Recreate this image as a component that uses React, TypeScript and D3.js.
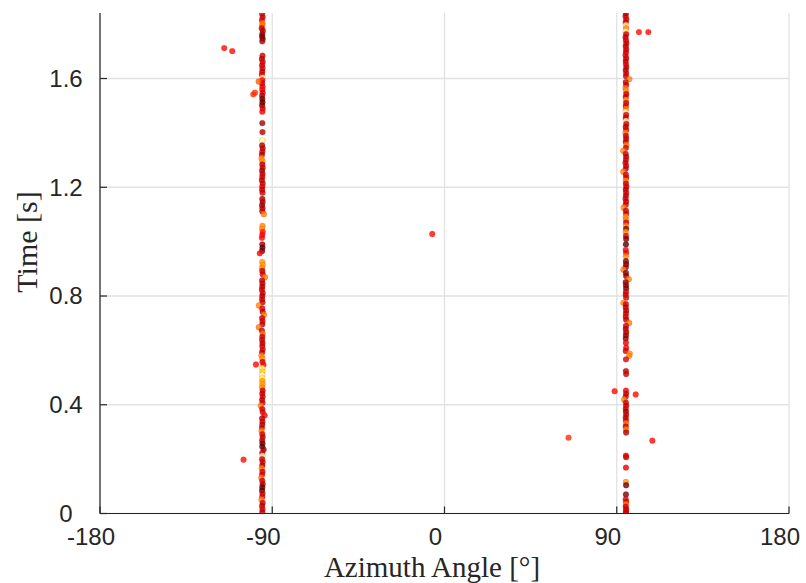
import React from "react";
import * as d3 from "d3";

// Detections near the left-hand source track: [azimuth °, time s, colour level]
const leftTrack: [number, number, number][] = [
  [-95.3, 1.838, 0.30], [-95.0, 1.826, 0.28], [-95.4, 1.815, 0.32], [-95.1, 1.803, 0.58], [-95.2, 1.796, 0.55],
  [-95.5, 1.785, 0.30], [-94.9, 1.776, 0.27], [-95.2, 1.764, 0.24], [-95.3, 1.755, 0.16], [-95.0, 1.746, 0.18],
  [-95.2, 1.737, 0.26],
  [-95.1, 1.684, 0.30], [-95.4, 1.672, 0.27], [-95.0, 1.661, 0.32], [-95.3, 1.649, 0.29], [-95.1, 1.638, 0.33],
  [-95.2, 1.626, 0.28], [-95.4, 1.615, 0.31], [-95.0, 1.603, 0.93], [-95.2, 1.594, 0.35], [-95.3, 1.583, 0.30],
  [-95.1, 1.571, 0.33], [-95.2, 1.560, 0.36], [-95.0, 1.548, 0.31], [-95.3, 1.537, 0.28], [-95.2, 1.525, 0.17],
  [-95.1, 1.513, 0.14], [-95.3, 1.502, 0.19], [-95.0, 1.490, 0.30], [-95.2, 1.478, 0.36],
  [-95.2, 1.436, 0.24], [-95.1, 1.403, 0.26], [-95.2, 1.372, 0.92],
  [-95.3, 1.354, 0.25], [-95.0, 1.343, 0.28], [-95.2, 1.331, 0.30], [-95.4, 1.320, 0.26], [-95.6, 1.307, 0.58],
  [-95.1, 1.296, 0.60], [-95.2, 1.284, 0.27], [-95.0, 1.272, 0.30], [-95.3, 1.261, 0.25], [-95.1, 1.249, 0.28],
  [-95.2, 1.238, 0.31], [-95.4, 1.226, 0.26], [-95.0, 1.214, 0.29], [-95.2, 1.203, 0.33], [-95.3, 1.191, 0.27],
  [-95.1, 1.180, 0.30],
  [-95.2, 1.157, 0.24], [-95.0, 1.146, 0.27], [-95.3, 1.134, 0.22], [-95.1, 1.123, 0.26], [-95.2, 1.112, 0.30],
  [-94.4, 1.101, 0.57],
  [-95.1, 1.058, 0.58], [-95.3, 1.047, 0.60], [-95.0, 1.036, 0.40], [-95.2, 1.025, 0.36], [-95.4, 1.014, 0.38],
  [-95.2, 0.990, 0.22], [-95.1, 0.978, 0.14], [-95.3, 0.966, 0.16], [-96.5, 0.957, 0.38],
  [-95.2, 0.925, 0.60], [-95.0, 0.914, 0.62], [-95.3, 0.903, 0.58],
  [-95.2, 0.892, 0.28], [-95.0, 0.880, 0.31], [-93.8, 0.869, 0.57], [-95.3, 0.857, 0.27], [-95.1, 0.846, 0.30],
  [-95.2, 0.834, 0.25], [-95.4, 0.823, 0.29], [-95.0, 0.811, 0.32], [-95.2, 0.800, 0.26], [-95.3, 0.788, 0.30],
  [-95.1, 0.777, 0.28], [-97.0, 0.765, 0.58], [-95.2, 0.754, 0.31], [-95.0, 0.742, 0.27], [-94.3, 0.731, 0.57],
  [-95.3, 0.719, 0.29], [-95.1, 0.708, 0.32], [-95.2, 0.696, 0.26], [-97.0, 0.685, 0.56], [-95.4, 0.673, 0.30],
  [-95.0, 0.662, 0.55], [-95.2, 0.650, 0.28], [-95.3, 0.639, 0.31], [-95.1, 0.627, 0.26], [-95.2, 0.616, 0.29],
  [-95.0, 0.604, 0.33], [-95.3, 0.593, 0.27], [-95.6, 0.581, 0.57], [-95.2, 0.570, 0.60], [-95.1, 0.558, 0.30],
  [-94.6, 0.547, 0.38],
  [-95.2, 0.535, 0.85], [-95.1, 0.522, 0.70], [-95.3, 0.510, 0.95], [-95.2, 0.498, 0.80],
  [-95.2, 0.487, 0.60], [-95.1, 0.475, 0.62], [-95.3, 0.464, 0.58], [-95.0, 0.452, 0.30],
  [-95.2, 0.441, 0.28], [-95.0, 0.430, 0.31], [-95.3, 0.418, 0.27], [-95.1, 0.407, 0.30], [-96.0, 0.396, 0.58],
  [-95.2, 0.384, 0.29], [-95.0, 0.373, 0.32], [-94.0, 0.361, 0.38], [-95.3, 0.350, 0.27], [-95.1, 0.338, 0.30],
  [-95.2, 0.327, 0.26], [-95.4, 0.315, 0.29], [-95.6, 0.304, 0.58], [-95.2, 0.292, 0.31], [-95.0, 0.281, 0.27],
  [-95.3, 0.269, 0.30], [-95.1, 0.258, 0.16], [-95.2, 0.246, 0.13], [-94.5, 0.235, 0.20], [-95.2, 0.223, 0.30],
  [-95.1, 0.212, 0.93], [-95.3, 0.200, 0.28], [-95.0, 0.189, 0.31], [-95.2, 0.177, 0.27], [-95.5, 0.166, 0.57],
  [-95.1, 0.154, 0.29], [-95.3, 0.143, 0.32], [-95.7, 0.131, 0.56], [-95.2, 0.120, 0.30], [-95.0, 0.108, 0.27],
  [-95.2, 0.097, 0.15], [-95.3, 0.085, 0.14], [-95.1, 0.074, 0.28], [-95.2, 0.062, 0.31], [-95.6, 0.051, 0.58],
  [-95.0, 0.039, 0.30], [-95.3, 0.028, 0.27], [-95.1, 0.016, 0.32], [-95.2, 0.005, 0.29],
];

// Detections near the right-hand source track
const rightTrack: [number, number, number][] = [
  [94.8, 1.840, 0.30], [94.6, 1.829, 0.27], [95.0, 1.818, 0.32], [94.7, 1.807, 0.28], [94.8, 1.796, 0.92],
  [94.9, 1.785, 0.58], [94.7, 1.774, 0.90], [94.9, 1.763, 0.30], [94.6, 1.752, 0.27], [94.8, 1.741, 0.33],
  [95.0, 1.730, 0.29], [94.7, 1.719, 0.26], [94.9, 1.708, 0.31], [94.8, 1.697, 0.28], [94.6, 1.686, 0.34],
  [94.9, 1.675, 0.30], [94.7, 1.664, 0.27], [94.8, 1.653, 0.32], [95.0, 1.642, 0.29], [94.7, 1.631, 0.26],
  [94.9, 1.620, 0.31], [94.8, 1.609, 0.28], [96.6, 1.598, 0.58], [94.7, 1.587, 0.30], [94.9, 1.576, 0.27],
  [94.6, 1.565, 0.55], [94.8, 1.554, 0.60], [95.0, 1.543, 0.30], [94.7, 1.532, 0.28], [94.8, 1.521, 0.62],
  [94.9, 1.510, 0.29], [94.7, 1.499, 0.32], [94.8, 1.488, 0.57], [94.6, 1.477, 0.92], [94.9, 1.466, 0.30],
  [94.7, 1.455, 0.27], [94.8, 1.444, 0.93], [95.0, 1.433, 0.29], [94.7, 1.422, 0.26], [94.9, 1.411, 0.31],
  [94.6, 1.400, 0.58], [94.8, 1.389, 0.28], [94.9, 1.378, 0.30], [94.7, 1.367, 0.27], [95.0, 1.356, 0.57],
  [94.8, 1.345, 0.29], [93.4, 1.334, 0.58], [94.7, 1.323, 0.30], [94.9, 1.312, 0.26], [94.8, 1.301, 0.31],
  [94.6, 1.290, 0.28], [94.9, 1.279, 0.30], [94.7, 1.268, 0.27], [93.4, 1.257, 0.57], [94.8, 1.246, 0.29],
  [94.9, 1.235, 0.31], [94.7, 1.224, 0.58], [94.8, 1.213, 0.28], [95.0, 1.202, 0.30], [94.7, 1.191, 0.26],
  [94.9, 1.180, 0.31], [94.8, 1.169, 0.28], [94.6, 1.158, 0.30], [94.9, 1.147, 0.27], [94.7, 1.136, 0.32],
  [93.6, 1.125, 0.58], [94.8, 1.114, 0.29], [94.9, 1.103, 0.30], [94.7, 1.092, 0.60], [94.8, 1.081, 0.57],
  [94.9, 1.070, 0.29],
  [94.8, 1.058, 0.58], [94.9, 1.047, 0.18], [94.7, 1.036, 0.60], [94.8, 1.021, 0.33], [94.9, 1.010, 0.17],
  [94.8, 0.990, 0.12], [94.7, 0.970, 0.36], [94.9, 0.959, 0.34], [94.8, 0.946, 0.58],
  [94.8, 0.928, 0.18], [94.9, 0.917, 0.20], [94.7, 0.906, 0.22], [93.5, 0.897, 0.57], [94.8, 0.885, 0.19],
  [94.9, 0.874, 0.21], [96.3, 0.862, 0.58], [94.7, 0.851, 0.20], [94.8, 0.840, 0.22], [94.9, 0.829, 0.18],
  [94.8, 0.816, 0.30], [94.7, 0.805, 0.28], [94.9, 0.794, 0.31], [93.5, 0.775, 0.57], [94.8, 0.770, 0.29],
  [94.7, 0.758, 0.27], [94.9, 0.747, 0.30], [94.8, 0.736, 0.26], [94.7, 0.724, 0.31], [94.9, 0.713, 0.28],
  [96.5, 0.701, 0.57], [94.8, 0.690, 0.30], [94.7, 0.679, 0.27], [94.9, 0.667, 0.29], [94.8, 0.656, 0.23],
  [94.7, 0.644, 0.20],
  [94.8, 0.628, 0.33], [94.9, 0.610, 0.36], [94.7, 0.598, 0.30], [96.8, 0.588, 0.60], [96.5, 0.580, 0.58],
  [94.8, 0.567, 0.32], [94.8, 0.524, 0.26], [94.9, 0.513, 0.29],
  [94.8, 0.452, 0.34], [94.9, 0.441, 0.30], [94.7, 0.430, 0.28], [93.8, 0.419, 0.58], [94.8, 0.408, 0.30],
  [94.9, 0.397, 0.27], [94.7, 0.386, 0.31], [94.8, 0.375, 0.22], [94.9, 0.364, 0.29], [94.7, 0.353, 0.26],
  [94.8, 0.342, 0.30], [94.9, 0.331, 0.57], [94.7, 0.320, 0.28], [94.8, 0.309, 0.58], [94.9, 0.298, 0.26],
  [94.8, 0.213, 0.33], [94.9, 0.207, 0.30], [94.8, 0.169, 0.34], [94.8, 0.116, 0.60], [94.9, 0.104, 0.16],
  [94.8, 0.070, 0.18], [94.7, 0.052, 0.33], [94.9, 0.043, 0.30], [94.8, 0.034, 0.58], [94.7, 0.025, 0.31],
  [94.9, 0.016, 0.29], [94.8, 0.008, 0.33], [94.8, 0.002, 0.30],
];

// Isolated detections away from both tracks
const strayDetections: [number, number, number][] = [
  [-115.1, 1.712, 0.39], [-110.9, 1.701, 0.39], [-99.9, 1.542, 0.45], [-99.0, 1.548, 0.45],
  [-97.1, 1.589, 0.52], [-98.5, 0.548, 0.39], [-105.0, 0.198, 0.39], [-6.4, 1.028, 0.39],
  [64.8, 0.279, 0.45], [88.9, 0.450, 0.39], [99.9, 0.438, 0.39], [101.6, 1.771, 0.39],
  [106.5, 1.771, 0.39], [108.6, 0.268, 0.39],
];

const xTicks = [-180, -90, 0, 90, 180];
const yTicks = [0, 0.4, 0.8, 1.2, 1.6];
const xDomain: [number, number] = [-180, 180];
const yDomain: [number, number] = [0, 1.841];

const W = 806;
const H = 583;
const plot = { left: 100, right: 789, top: 13, bottom: 513.5 };

// "hot" colour map: black -> red -> yellow -> white
const hot = d3
  .scaleLinear<string>()
  .domain([0, 0.375, 0.75, 1])
  .range(["#000000", "#ff0000", "#ffff00", "#ffffff"])
  .clamp(true);

const axisColor = "#262626";
const gridColor = "#e1e1e1";
const sans = "'Liberation Sans', Arial, Helvetica, sans-serif";
const serif = "'Liberation Serif', 'DejaVu Serif', serif";

export default function App() {
  const x = d3.scaleLinear().domain(xDomain).range([plot.left, plot.right]);
  const y = d3.scaleLinear().domain(yDomain).range([plot.bottom, plot.top]);

  const allPoints = [...leftTrack, ...rightTrack, ...strayDetections];

  return (
    <div style={{ position: "absolute", left: 0, top: 0 }}>
      <svg width={W} height={H} style={{ display: "block", background: "#fff" }}>
        <defs>
          <clipPath id="plot-area">
            <rect x={plot.left} y={plot.top} width={plot.right - plot.left} height={plot.bottom - plot.top} />
          </clipPath>
        </defs>

        {/* grid */}
        <g stroke={gridColor} strokeWidth={1.3}>
          {xTicks.map((t) => (
            <line key={`gx${t}`} x1={x(t)} x2={x(t)} y1={plot.top} y2={plot.bottom} />
          ))}
          {yTicks.map((t) => (
            <line key={`gy${t}`} x1={plot.left} x2={plot.right} y1={y(t)} y2={y(t)} />
          ))}
        </g>

        {/* detections */}
        <g clipPath="url(#plot-area)">
          {allPoints.map(([az, t, lvl], i) => (
            <circle
              key={i}
              cx={x(az)}
              cy={y(t)}
              r={2.9}
              fill={hot(lvl)}
              fillOpacity={0.8}
              stroke={hot(Math.min(lvl, 0.4))}
              strokeOpacity={0.35}
              strokeWidth={0.6}
            />
          ))}
        </g>

        {/* axes */}
        <g stroke={axisColor} strokeWidth={1.2}>
          <line x1={plot.left} x2={plot.right} y1={plot.bottom} y2={plot.bottom} />
          <line x1={plot.left} x2={plot.left} y1={plot.top} y2={plot.bottom} />
          {xTicks.map((t) => (
            <line key={`tx${t}`} x1={x(t)} x2={x(t)} y1={plot.bottom} y2={plot.bottom - 7} />
          ))}
          {yTicks.map((t) => (
            <line key={`ty${t}`} x1={plot.left} x2={plot.left + 7} y1={y(t)} y2={y(t)} />
          ))}
        </g>

        {/* tick labels */}
        <g fill={axisColor} fontFamily={sans} fontSize={24}>
          {xTicks.map((t) => (
            <text key={`lx${t}`} x={x(t) - 9} y={545} textAnchor="middle">
              {t}
            </text>
          ))}
          {yTicks.map((t) => (
            <text key={`ly${t}`} x={66} y={y(t)} dy="0.35em" textAnchor="middle">
              {t === 0 ? "0" : t.toFixed(1)}
            </text>
          ))}
        </g>

        {/* axis titles */}
        <text x={432} y={577} textAnchor="middle" fontFamily={serif} fontSize={29} fill={axisColor}>
          Azimuth Angle [°]
        </text>
        <text
          transform={`translate(37, 242) rotate(-90)`}
          textAnchor="middle"
          fontFamily={serif}
          fontSize={30}
          fill={axisColor}
        >
          Time [s]
        </text>
      </svg>
    </div>
  );
}
